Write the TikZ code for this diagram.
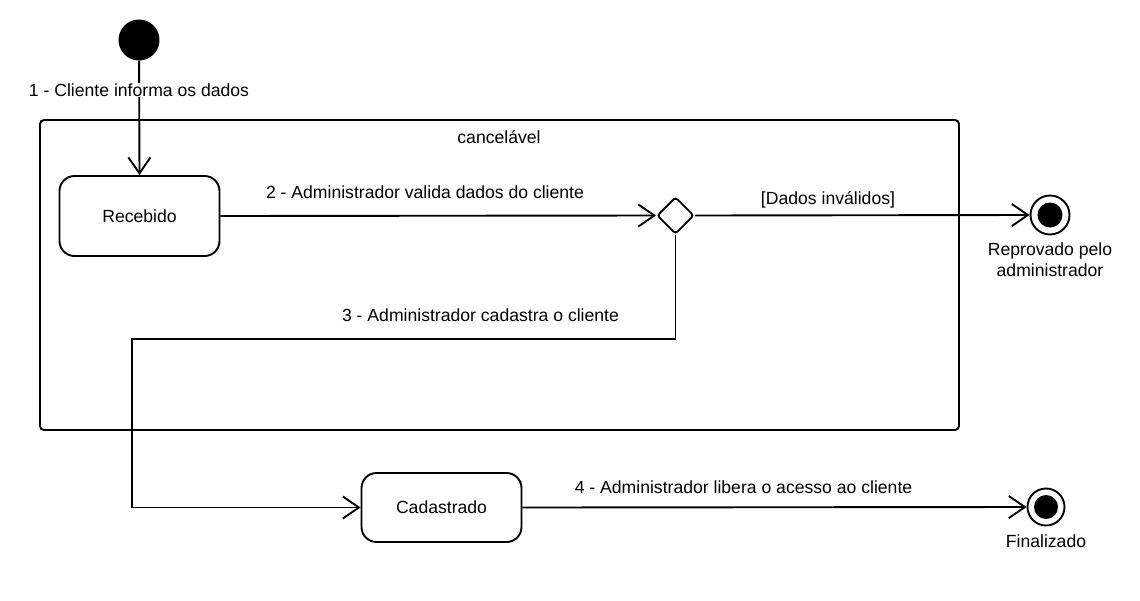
\documentclass[tikz,border=0pt]{standalone}
\usepackage{fontspec}
\setmainfont{Liberation Sans}
\usetikzlibrary{arrows.meta,shapes.geometric}
\begin{document}
\begin{tikzpicture}[x=1pt,y=-1pt,
  every node/.style={font=\fontsize{17.6}{21}\selectfont},
  ln/.style={line width=1.9pt},
  arr/.style={ln,-{Straight Barb[length=16pt,width=22pt,line width=1.9pt]}},
  statebox/.style={draw,line width=1.9pt,rounded corners=15pt,minimum width=160pt,inner sep=0pt},
  lbl/.style={inner sep=1pt},
  initst/.style={circle,fill=black,minimum size=41pt,inner sep=0pt},
  finalouter/.style={circle,draw,line width=1.9pt,fill=white,inner sep=0pt},
  finalinner/.style={circle,fill=black,inner sep=0pt}]
\useasboundingbox (0,0) rectangle (1140,600);
% container
\draw[line width=1.9pt,rounded corners=4pt] (40,120) rectangle (959,430);
\node[lbl] (canc) at (499,137) {cancelável};
% nodes
\node[initst] (init) at (139,40) {};
\node[statebox,minimum height=80pt] (rec) at (139.5,216) {Recebido};
\node[diamond,draw,line width=1.9pt,rounded corners=3pt,minimum width=37pt,minimum height=37pt,inner sep=0pt] (dec) at (675.5,215.5) {};
\node[finalouter,minimum size=39pt] (f1) at (1050,215) {};
\node[finalinner,minimum size=25pt] (f1i) at (1050,215) {};
\node[lbl,align=center] (f1l) at (1050,260) {Reprovado pelo\\administrador};
\node[statebox,minimum height=69pt] (cad) at (441.5,507.5) {Cadastrado};
\node[finalouter,minimum size=37pt] (f2) at (1046,507) {};
\node[finalinner,minimum size=24pt] (f2i) at (1046,507) {};
\node[lbl] (f2l) at (1046,541) {Finalizado};
\coordinate (c1) at (132,339);
% connectors
\draw[arr] (init) -- (rec.north);
\node[lbl,fill=white] (l1) at (139,90) {1 - Cliente informa os dados};
\draw[arr] (rec.east) -- (dec.west);
\node[lbl] (l2) at (425,192) {2 - Administrador valida dados do cliente};
\draw[arr] (dec.east) -- (f1.west);
\node[lbl] (l3) at (828,200) {[Dados inválidos]};
\draw[arr] (dec.south) |- (c1) |- (cad.west);
\node[lbl] (l4) at (480.5,315) {3 - Administrador cadastra o cliente};
\draw[arr] (cad.east) -- (f2.west);
\node[lbl] (l5) at (743.5,487) {4 - Administrador libera o acesso ao cliente};
\end{tikzpicture}
\end{document}
